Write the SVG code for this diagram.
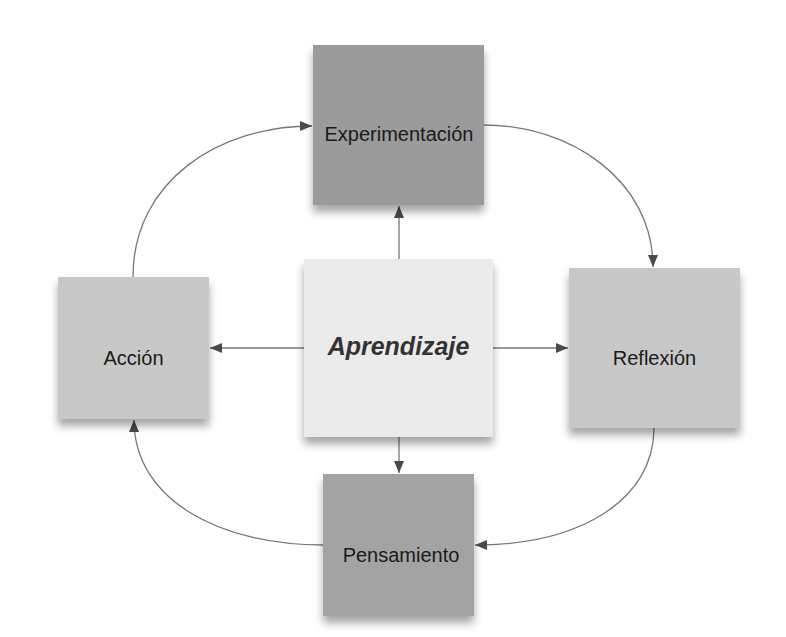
<svg xmlns="http://www.w3.org/2000/svg" width="786" height="637" viewBox="0 0 786 637">
<defs>
<filter id="sh" x="-20%" y="-20%" width="140%" height="150%">
<feDropShadow dx="0" dy="7" stdDeviation="4" flood-color="#000" flood-opacity="0.35"/>
</filter>
<marker id="ah" viewBox="0 0 12 10" refX="12" refY="5" markerWidth="12" markerHeight="10" markerUnits="userSpaceOnUse" orient="auto">
<path d="M0,0 L12,5 L0,10 Z" fill="#4a4a4a"/>
</marker>
<style>
.lbl{font-family:"Liberation Sans",Arial,sans-serif;font-size:20px;fill:#1a1a1a;text-anchor:middle}
.main{font-family:"Liberation Sans",Arial,sans-serif;font-size:25px;font-weight:bold;font-style:italic;fill:#333;text-anchor:middle}
.c{fill:none;stroke:#777;stroke-width:1.3;marker-end:url(#ah)}
</style>
</defs>
<rect width="786" height="637" fill="#fff"/>
<g id="connectors">
<path class="c" d="M399,259 L399,206"/>
<path class="c" d="M399,437 L399,473"/>
<path class="c" d="M304,348 L210,348"/>
<path class="c" d="M493,348 L568,348"/>
<path class="c" d="M133,277 C133,180 220,126 312,126"/>
<path class="c" d="M484,125 C570,125 653,180 653,267"/>
<path class="c" d="M654,428 C654,500 580,545 475,545"/>
<path class="c" d="M323,545 C220,545 134,500 134,420"/>
</g>
<g id="experimentacion">
<rect x="313" y="45" width="171" height="160" fill="#9b9b9b" filter="url(#sh)"/>
<text class="lbl" x="399" y="141">Experimentación</text>
</g>
<g id="aprendizaje">
<rect x="304" y="259" width="189" height="178" fill="#ebebeb" filter="url(#sh)"/>
<text class="main" x="398.5" y="355">Aprendizaje</text>
</g>
<g id="accion">
<rect x="58" y="277" width="151" height="142" fill="#c8c8c8" filter="url(#sh)"/>
<text class="lbl" x="133.5" y="365">Acción</text>
</g>
<g id="reflexion">
<rect x="569" y="268" width="171" height="160" fill="#c8c8c8" filter="url(#sh)"/>
<text class="lbl" x="654.5" y="365">Reflexión</text>
</g>
<g id="pensamiento">
<rect x="323" y="474" width="151" height="142" fill="#a3a3a3" filter="url(#sh)"/>
<text class="lbl" x="401" y="562">Pensamiento</text>
</g>
</svg>
